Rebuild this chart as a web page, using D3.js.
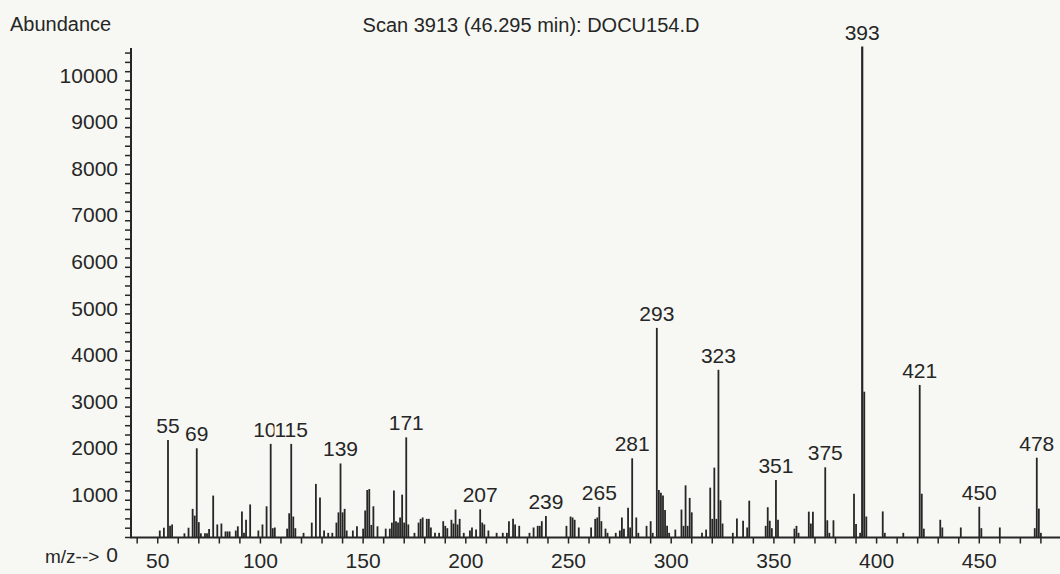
<!DOCTYPE html>
<html>
<head>
<meta charset="utf-8">
<script src="https://cdn.jsdelivr.net/npm/d3@7"></script>
<style>
  html, body { margin: 0; padding: 0; background: #f7f8f3; }
  svg { display: block; }
  text { font-family: "Liberation Sans", Arial, sans-serif; fill: #262626; }
</style>
</head>
<body>
<svg id="chart" width="1060" height="574"></svg>
<script>
// ---- data ----
const mz = [51,53,55,56,57,63,65,67,68,69,70,71,73,74,75,77,79,81,83,84,85,88,89,91,92,93,95,99,101,103,105,106,107,113,114,115,116,117,121,125,127,129,131,133,135,137,138,139,140,141,142,145,147,150,151,152,153,154,155,157,161,163,164,165,166,167,168,169,170,171,172,175,177,178,179,181,182,183,185,187,189,190,191,193,194,195,196,197,199,202,203,205,207,208,209,211,215,218,220,221,223,224,226,231,233,235,236,237,239,249,251,252,253,255,261,263,264,265,266,268,269,273,275,276,277,279,280,281,283,284,288,290,291,293,294,295,296,297,298,299,302,305,306,307,308,309,310,315,317,319,320,321,322,323,324,325,330,332,335,337,338,346,347,348,349,351,352,360,361,362,367,368,369,375,376,377,379,389,390,392,393,394,395,403,404,413,421,422,423,431,432,441,450,451,460,477,478,479,480];
const abundance = [150,210,2095,250,280,90,210,615,470,1915,330,90,90,90,185,900,280,300,130,130,130,150,240,560,100,380,710,150,280,670,2010,200,215,190,520,2010,450,200,100,320,1150,860,150,100,100,320,540,1590,540,615,150,150,240,190,580,1020,1040,270,670,240,190,190,320,1010,350,320,430,920,320,2150,280,100,320,400,430,400,400,215,100,100,350,250,200,380,300,600,280,400,100,150,215,170,605,320,280,150,100,100,100,350,400,280,250,100,215,250,250,350,460,250,450,430,380,215,215,400,430,660,350,190,100,100,150,430,190,640,215,1700,430,100,250,350,100,4500,1020,960,900,590,250,100,170,600,250,1120,250,850,540,100,170,1070,400,1500,400,3600,800,300,100,410,360,215,790,250,650,360,200,1235,380,190,250,100,555,300,555,1507,370,100,370,940,290,100,10540,3130,450,560,100,100,3275,940,190,380,215,215,660,200,215,200,1713,620,100];
const labeledPeaks = [55,69,105,115,139,171,207,239,265,281,293,323,351,375,393,421,450,478];
const yTickValues = [1000,2000,3000,4000,5000,6000,7000,8000,9000,10000];
const yMinorStep = 200;
const xTickLabels = [50,100,150,200,250,300,350,400,450];
const xMinorStep = 10;
const titleText = "Scan 3913 (46.295 min): DOCU154.D";
const yTitle = "Abundance";
const xTitle = "m/z-->";

// ---- layout ----
const X_MIN = 36.5, X_MAX = 489.3;   // m/z extent of the x axis
const Y_AXIS_TOP = 10510;            // abundance at the top of the y axis line
const ink = "#262626";
const bg = "#f7f8f3";
const svg = d3.select("#chart");

const x = d3.scaleLinear().domain([X_MIN, X_MAX]).range([130, 1060]);
const y = d3.scaleLinear().domain([0, 10000]).range([537.5, 71.7]);
const axisX = x(X_MIN) + 1;

// bars
const peaks = mz.map((m, i) => ({ m, v: abundance[i] }));
svg.append("g").selectAll("line").data(peaks).join("line")
  .attr("x1", d => x(d.m)).attr("x2", d => x(d.m))
  .attr("y1", y(0)).attr("y2", d => y(d.v))
  .attr("stroke", ink)
  .attr("stroke-width", d => d.v > 5000 ? 2.2 : 1.8);

// x axis
svg.append("line")
  .attr("x1", x(X_MIN)).attr("x2", x(X_MAX))
  .attr("y1", y(0)).attr("y2", y(0))
  .attr("stroke", ink).attr("stroke-width", 2);
const xTicks = d3.range(40, X_MAX, xMinorStep);
svg.append("g").selectAll("line").data(xTicks).join("line")
  .attr("x1", d => x(d)).attr("x2", d => x(d))
  .attr("y1", y(0)).attr("y2", y(0) + 6)
  .attr("stroke", ink).attr("stroke-width", 1.5);
svg.append("g").selectAll("text").data(xTickLabels).join("text")
  .attr("x", d => x(d)).attr("y", y(0) + 30.5)
  .attr("text-anchor", "middle").attr("font-size", 21)
  .text(d => d);

// y axis
svg.append("line")
  .attr("x1", axisX).attr("x2", axisX)
  .attr("y1", y(0)).attr("y2", y(Y_AXIS_TOP))
  .attr("stroke", ink).attr("stroke-width", 2);
const yTicks = d3.range(0, Y_AXIS_TOP, yMinorStep);
svg.append("g").selectAll("line").data(yTicks).join("line")
  .attr("x1", axisX - 6).attr("x2", axisX)
  .attr("y1", d => y(d)).attr("y2", d => y(d))
  .attr("stroke", ink).attr("stroke-width", 1.5);
svg.append("g").selectAll("text").data(yTickValues).join("text")
  .attr("x", 118).attr("y", d => y(d) + 11)
  .attr("text-anchor", "end").attr("font-size", 21)
  .text(d => d);
svg.append("text").attr("x", 118).attr("y", y(0) + 24.5)
  .attr("text-anchor", "end").attr("font-size", 21).text(0);
svg.append("text").attr("x", 45).attr("y", y(0) + 25.5)
  .attr("font-size", 19).text(xTitle);

// titles
svg.append("text").attr("x", 10).attr("y", 31)
  .attr("font-size", 20).text(yTitle);
svg.append("text").attr("x", 531).attr("y", 31.5)
  .attr("text-anchor", "middle").attr("font-size", 20).text(titleText);

// peak labels (later labels drawn over earlier ones, as in the original "1(115")
const labelG = svg.append("g");
labeledPeaks.forEach(m => {
  const p = peaks.find(d => d.m === m);
  const g = labelG.append("g");
  const t = g.append("text")
    .attr("x", x(m)).attr("y", y(p.v) - 7)
    .attr("text-anchor", "middle").attr("font-size", 21)
    .text(m);
  const b = t.node().getBBox();
  g.insert("rect", "text")
    .attr("x", b.x).attr("y", b.y + 3).attr("width", b.width).attr("height", b.height - 6)
    .attr("fill", bg);
});
</script>
</body>
</html>
